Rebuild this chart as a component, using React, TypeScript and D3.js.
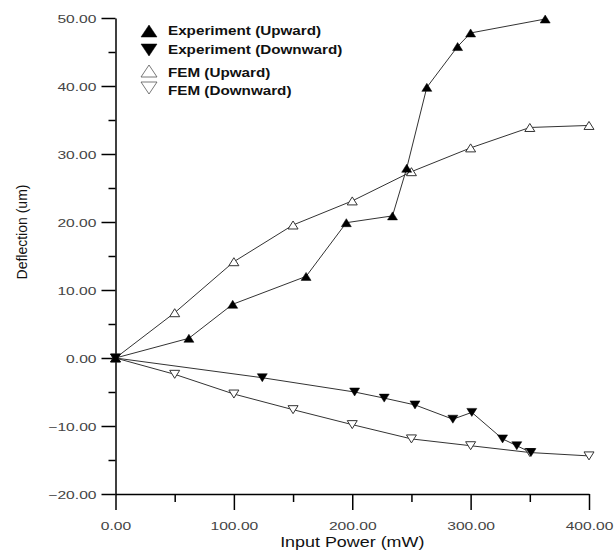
import React, { useEffect, useRef } from "react";
import * as d3 from "d3";

// Experiment (Upward)
const expUpX = [0, 62, 99, 161, 195, 234, 246, 263, 289, 300, 363];
const expUpY = [0, 2.9, 7.9, 12.0, 19.9, 20.9, 27.9, 39.8, 45.8, 47.8, 49.85];
// Experiment (Downward)
const expDownX = [0, 124, 202, 227, 253, 285, 301, 327, 339, 351];
const expDownY = [0, -2.9, -5.0, -5.9, -6.9, -9.0, -8.0, -11.9, -12.9, -13.9];
// FEM (Upward)
const femUpX = [0, 50, 100, 150, 200, 250, 300, 350, 400];
const femUpY = [0, 6.66, 14.16, 19.56, 23.1, 27.4, 30.9, 33.9, 34.2];
// FEM (Downward)
const femDownX = [0, 50, 100, 150, 200, 250, 300, 350, 400];
const femDownY = [0, -2.4, -5.3, -7.6, -9.8, -11.9, -12.9, -13.9, -14.4];

const xMajor = [0, 100, 200, 300, 400];
const xMinor = [50, 150, 250, 350];
const yMajor = [-20, -10, 0, 10, 20, 30, 40, 50];
const yMinor = [-15, -5, 5, 15, 25, 35, 45];

const legendLabels = ["Experiment (Upward)", "Experiment (Downward)", "FEM (Upward)", "FEM (Downward)"];

const W = 616, H = 553;
const FONT = "'Liberation Sans', Arial, sans-serif";

function tri(cx: number, cy: number, w: number, h: number, up: boolean) {
  const hw = w / 2, hh = h / 2;
  return up
    ? `M${cx},${cy - hh}L${cx + hw},${cy + hh}L${cx - hw},${cy + hh}Z`
    : `M${cx},${cy + hh}L${cx + hw},${cy - hh}L${cx - hw},${cy - hh}Z`;
}

export default function App() {
  const svgRef = useRef<SVGSVGElement | null>(null);

  useEffect(() => {
    const svg = d3.select(svgRef.current);
    svg.selectAll("*").remove();

    const x = d3.scaleLinear().domain([0, 400]).range([115.5, 589]);
    const y = d3.scaleLinear().domain([-20, 50]).range([494, 18]);

    const series = [
      { xs: expUpX, ys: expUpY, up: true, filled: true },
      { xs: expDownX, ys: expDownY, up: false, filled: true },
      { xs: femUpX, ys: femUpY, up: true, filled: false },
      { xs: femDownX, ys: femDownY, up: false, filled: false },
    ];

    // axes
    const yAxis = svg.append("g").attr("transform", `translate(${x(0)},0)`)
      .call(d3.axisLeft(y).tickValues(yMajor).tickSize(14).tickSizeOuter(0).tickPadding(5).tickFormat(d3.format(".2f")));
    svg.append("g").attr("transform", `translate(${x(0)},0)`)
      .call(d3.axisLeft(y).tickValues(yMinor).tickSize(7).tickSizeOuter(0).tickFormat(() => ""))
      .call(g => g.select(".domain").remove());
    const xAxis = svg.append("g").attr("transform", `translate(0,${y(-20)})`)
      .call(d3.axisBottom(x).tickValues(xMajor).tickSize(16).tickSizeOuter(0).tickFormat(d3.format(".2f")));
    svg.append("g").attr("transform", `translate(0,${y(-20)})`)
      .call(d3.axisBottom(x).tickValues(xMinor).tickSize(8).tickSizeOuter(0).tickFormat(() => ""))
      .call(g => g.select(".domain").remove());

    svg.selectAll(".domain, .tick line").attr("stroke", "#000").attr("stroke-width", 1.5);

    yAxis.selectAll<SVGTextElement, number>(".tick text")
      .attr("x", null).attr("dy", null)
      .attr("transform", "translate(-19,4) scale(1.42,1)")
      .attr("font-family", FONT).attr("font-size", 11).attr("fill", "#444");
    xAxis.selectAll<SVGTextElement, number>(".tick text")
      .attr("y", null).attr("dy", null)
      .attr("transform", "translate(0,35.5) scale(1.42,1)")
      .attr("font-family", FONT).attr("font-size", 11).attr("fill", "#444");

    // titles
    svg.append("text")
      .attr("transform", `translate(${(x(0) + x(400)) / 2},547) scale(1.28,1)`)
      .attr("text-anchor", "middle").attr("font-family", FONT).attr("font-size", 14).attr("fill", "#111")
      .text("Input Power (mW)");
    svg.append("text")
      .attr("transform", "translate(27,232) rotate(-90)")
      .attr("text-anchor", "middle").attr("font-family", FONT).attr("font-size", 14).attr("fill", "#111")
      .text("Deflection (um)");

    // lines
    const line = d3.line<[number, number]>().x(d => x(d[0])).y(d => y(d[1]));
    series.forEach(s => {
      const pts = s.xs.map((v, i) => [v, s.ys[i]] as [number, number]);
      svg.append("path").attr("d", line(pts)).attr("fill", "none").attr("stroke", "#333").attr("stroke-width", 1);
    });
    // markers (hollow first, filled on top)
    [series[2], series[3], series[0], series[1]].forEach(s => {
      svg.append("g").selectAll("path").data(s.xs.map((v, i) => [v, s.ys[i]]))
        .enter().append("path")
        .attr("d", d => tri(x(d[0]), y(d[1]), 10, 8, s.up))
        .attr("fill", s.filled ? "#000" : "#fff")
        .attr("stroke", s.filled ? "#000" : "#333")
        .attr("stroke-width", s.filled ? 0.5 : 1);
    });

    // legend
    const legendRowsY = [31, 50, 71, 88];
    const legendTextY = [35, 54, 77, 95];
    legendLabels.forEach((lab, i) => {
      const s = series[i];
      svg.append("path")
        .attr("d", tri(149, legendRowsY[i], 16, 12, s.up))
        .attr("fill", s.filled ? "#000" : "#fff")
        .attr("stroke", s.filled ? "#000" : "#555")
        .attr("stroke-width", s.filled ? 0.5 : 0.8);
      svg.append("text")
        .attr("transform", `translate(168,${legendTextY[i]}) scale(1.27,1)`)
        .attr("font-family", FONT).attr("font-size", 12).attr("font-weight", "bold").attr("fill", "#111")
        .text(lab);
    });
  }, []);

  return (
    <svg ref={svgRef} width={W} height={H} style={{ position: "absolute", left: 0, top: 0, background: "#fff" }}></svg>
  );
}
